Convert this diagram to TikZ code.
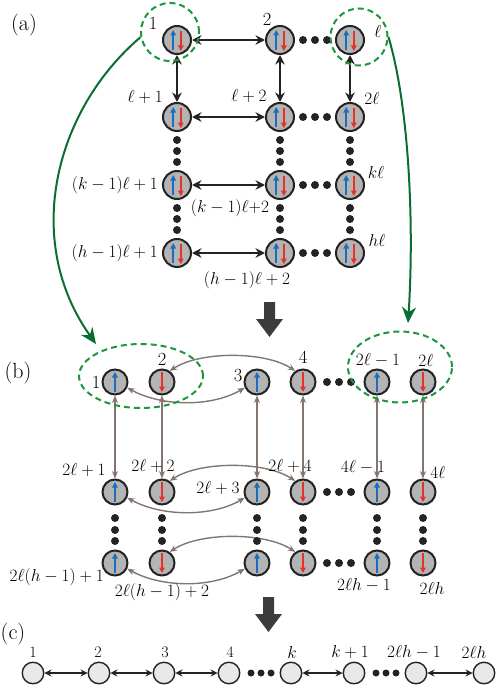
\documentclass[tikz,border=0pt]{standalone}
\usetikzlibrary{arrows.meta,shapes.geometric}
\definecolor{nodegray}{RGB}{180,180,180}
\definecolor{edge}{RGB}{35,35,35}
\definecolor{spinblue}{RGB}{25,110,190}
\definecolor{spinred}{RGB}{228,50,40}
\definecolor{linkgray}{RGB}{130,118,110}
\definecolor{grn}{RGB}{10,110,50}
\definecolor{grnd}{RGB}{30,150,60}
\definecolor{bigarrow}{RGB}{60,60,60}
\definecolor{cfill}{RGB}{232,232,232}
\tikzset{
  spinup/.style={spinblue,line width=1.7pt,-{Triangle[length=5.5pt,width=5.5pt]}},
  spindn/.style={spinred,line width=1.7pt,-{Triangle[length=5.5pt,width=5.5pt]}},
}
\newcommand\pairspin[1]{%
  \draw[spinup] ([shift={(-3.8,10)}]#1.center) -- ([shift={(-3.8,-10)}]#1.center);
  \draw[spindn] ([shift={(3.8,-9)}]#1.center) -- ([shift={(3.8,11)}]#1.center);}
\newcommand\upspin[1]{%
  \draw[spinup] ([shift={(0,10)}]#1.center) -- ([shift={(0,-10)}]#1.center);}
\newcommand\dnspin[1]{%
  \draw[spindn] ([shift={(0,-10)}]#1.center) -- ([shift={(0,10)}]#1.center);}
\begin{document}
\begin{tikzpicture}[x=1pt,y=-1pt,font=\fontsize{18.5}{21}\selectfont,
  anode/.style={circle,fill=nodegray,draw=edge,line width=2pt,minimum size=28pt,inner sep=0pt},
  bnode/.style={anode,minimum size=25pt},
  cnode/.style={circle,fill=cfill,draw=edge,line width=1.4pt,minimum size=21.5pt,inner sep=0pt},
  blk/.style={draw=edge,line width=2pt,{Stealth[length=9.5pt,width=9.5pt]}-{Stealth[length=9.5pt,width=9.5pt]}},
  lnk/.style={draw=linkgray,line width=1.4pt,{Stealth[length=7.5pt,width=6pt]}-{Stealth[length=7.5pt,width=6pt]}},
  cblk/.style={draw=edge,line width=1.6pt,{Stealth[length=7pt,width=7pt]}-{Stealth[length=7pt,width=7pt]}},
  lbl/.style={inner sep=0pt},
  clbl/.style={inner sep=0pt,font=\fontsize{16}{19}\selectfont},
  plbl/.style={inner sep=0pt,font=\fontsize{22}{25}\selectfont},
  gdash/.style={draw=grnd,line width=2pt,dash pattern=on 6pt off 4pt,inner sep=0pt},
  garrow/.style={draw=grn,line width=2pt,-{Stealth[length=16pt,width=14pt]}},
]
\useasboundingbox (0,0) rectangle (498,693);

% ---------------- (a) ----------------
\node[plbl] (pa) at (24,25) {(a)};
\foreach \c/\x in {1/177,2/280,3/350}
  \foreach \r/\y in {1/40,2/117,3/185,4/253} {
    \node[anode] (a\r\c) at (\x,\y) {};
    \pairspin{a\r\c}
  }
\foreach \r in {1,2,3,4} \draw[blk] (a\r1) -- (a\r2);
\foreach \c in {1,2,3} \draw[blk] (a1\c) -- (a2\c);
\foreach \y in {40,117,185,253}
  \foreach \x in {303,315,327} \fill[edge] (\x,\y) circle (4);
\foreach \x in {177,280,350}
  \foreach \y in {140,151,162,208,219,230} \fill[edge] (\x,\y) circle (4);

\node[lbl] (la1) at (153,23) {1};
\node[lbl] (la2) at (267,19) {2};
\node[lbl] (la3) at (378,32) {$\ell$};
\node[lbl,anchor=east] (la4) at (163,97) {$\ell+1$};
\node[lbl] (la5) at (249,96) {$\ell+2$};
\node[lbl] (la6) at (372,98) {$2\ell$};
\node[lbl,anchor=east] (la7) at (158,185) {$(k-1)\ell+1$};
\node[lbl] (la8) at (230,208) {$(k-1)\ell{+}2$};
\node[lbl] (la9) at (376,172) {$k\ell$};
\node[lbl,anchor=east] (la10) at (158,253) {$(h-1)\ell+1$};
\node[lbl] (la11) at (247,280) {$(h-1)\ell+2$};
\node[lbl] (la12) at (377,240) {$h\ell$};

\node[gdash,circle,minimum size=58pt] (g1) at (170,32) {};
\node[gdash,circle,minimum size=57pt] (g2) at (359,37) {};

% big arrow a -> b
\fill[bigarrow] (264,302) -- (275,302) -- (275,319) -- (283,319) -- (269.5,337) -- (256,319) -- (264,319) -- cycle;

% ---------------- (b) ----------------
\node[plbl] (pb) at (18,373) {(b)};
\foreach \c/\x in {1/115,3/257,5/377}
  \foreach \r/\y in {1/382,2/492,3/563} {
    \node[bnode] (b\r\c) at (\x,\y) {};
    \upspin{b\r\c}
  }
\foreach \c/\x in {2/162,4/303,6/423}
  \foreach \r/\y in {1/382,2/492,3/563} {
    \node[bnode] (b\r\c) at (\x,\y) {};
    \dnspin{b\r\c}
  }
\foreach \c in {1,...,6} \draw[lnk] (b1\c) -- (b2\c);
\foreach \r/\d in {1/0,2/110,3/181} {
  \draw[lnk] (b\r2.55) .. controls (200,351+\d) and (265,351+\d) .. (b\r4.125);
  \draw[lnk] (b\r1.-25) .. controls (162,407+\d) and (212,407+\d) .. (b\r3.-155);
}
\foreach \y in {382,492,563}
  \foreach \x in {327,339,351} \fill[edge] (\x,\y) circle (4);
\foreach \x in {115,162,257,303,377,423}
  \foreach \y in {518,530,541} \fill[edge] (\x,\y) circle (4);

\node[lbl] (lb1) at (96,382) {1};
\node[lbl] (lb2) at (162,359) {2};
\node[lbl] (lb3) at (238,376) {3};
\node[lbl] (lb4) at (303,357) {4};
\node[lbl] (lb5) at (378,360) {$2\ell-1$};
\node[lbl] (lb6) at (426,360) {$2\ell$};
\node[lbl] (lb7) at (84,470) {$2\ell+1$};
\node[lbl] (lb8) at (153,466) {$2\ell+2$};
\node[lbl] (lb9) at (218,488) {$2\ell+3$};
\node[lbl] (lb10) at (290,466) {$2\ell+4$};
\node[lbl] (lb11) at (363,467) {$4\ell-1$};
\node[lbl] (lb12) at (438,472) {$4\ell$};
\node[lbl,anchor=east] (lb13) at (104,577) {$2\ell(h-1)+1$};
\node[lbl] (lb14) at (162,592) {$2\ell(h-1)+2$};
\node[lbl] (lb15) at (364,585) {$2\ell h-1$};
\node[lbl] (lb16) at (432,588) {$2\ell h$};

\node[gdash,ellipse,minimum width=124pt,minimum height=64pt] (gb1) at (141,376) {};
\node[gdash,ellipse,minimum width=104pt,minimum height=71pt] (gb2) at (400,367) {};

\coordinate (gt1) at (96,344);
\coordinate (gt2) at (408,323);
\draw[garrow] (g1.190) .. controls (55,110) and (22,240) .. (gt1);
\draw[garrow] (g2.east) .. controls (410,110) and (414,230) .. (gt2);

% big arrow b -> c
\fill[bigarrow] (263,597) -- (274,597) -- (274,614) -- (282,614) -- (268.5,632) -- (255,614) -- (263,614) -- cycle;

% ---------------- (c) ----------------
\node[plbl] (pc) at (13,634) {(c)};
\foreach \i/\x in {1/33,2/99,3/164,4/229,5/291,6/354,7/416,8/484}
  \node[cnode] (c\i) at (\x,673) {};
\draw[cblk] (c1) -- (c2);
\draw[cblk] (c2) -- (c3);
\draw[cblk] (c3) -- (c4);
\draw[cblk] (c5) -- (c6);
\draw[cblk] (c7) -- (c8);
\foreach \x in {251,261,271,376,386,396} \fill[edge] (\x,673) circle (3.5);
\node[clbl] (lc1) at (33,652) {1};
\node[clbl] (lc2) at (98,652) {2};
\node[clbl] (lc3) at (165,652) {3};
\node[clbl] (lc4) at (230,652) {4};
\node[clbl] (lc5) at (292,652) {$k$};
\node[clbl] (lc6) at (350,652) {$k+1$};
\node[clbl] (lc7) at (414,652) {$2\ell h-1$};
\node[clbl] (lc8) at (474,652) {$2\ell h$};
\end{tikzpicture}
\end{document}
